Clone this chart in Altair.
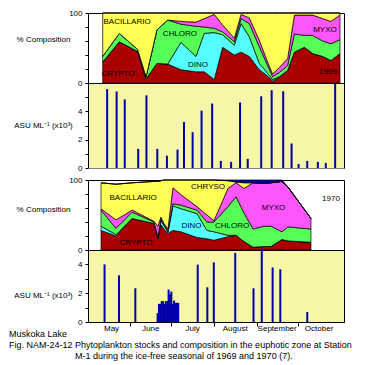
import altair as alt
import pandas as pd

FONT = "Liberation Sans"
X_DOMAIN = [125, 304]                      # day of year
MONTH_BOUNDS = [152, 182, 213, 244, 274]
months = ["May", "June", "July", "August", "September", "October"]
month_mid = [138.5, 167, 197.5, 228.5, 259, 289.5]

groups = ["CRYPTO", "DINO", "CHLORO", "MYXO", "BACILLARIO", "CYANO"]
group_colors = ["#aa0000", "#55ffff", "#55ff55", "#ff55ff", "#ffff55", "#0000aa"]

# ---- 1969 composition (% of total) ----
days69 = [135.3, 146.9, 159.7, 165.6, 173.2, 180.7, 190.0, 200.5, 206.3, 213.3, 219.1, 227.3, 232.0,
          237.8, 244.8, 250.6, 254.1, 258.8, 264.6, 269.3, 276.3, 282.1, 289.1, 294.9, 301.2]
crypto69 = [30, 59, 45, 6, 28, 27, 19, 16, 16, 5, 51, 40, 44, 38, 19, 10, 3, 8, 18, 44, 51, 42, 38, 32, 42]
dino69 = [0, 0, 0, 0, 0, 0, 39, 22, 55, 67, 18, 14, 41, 28, 9, 4, 2, 1, 0, 0, 0, 0, 0, 0, 0]
chloro69 = [8, 12, 3, 3, 48, 63, 26, 43, 9, 6, 4, 5, 7, 19, 24, 11, 4, 6, 7, 26, 17, 26, 22, 24, 20]
myxo69 = [0, 0, 0, 0, 0, 0, 4, 6, 12, 20, 10, 5, 6, 8, 9, 5, 4, 7, 10, 27, 29, 29, 32, 32, 35]
bacil69 = [62, 29, 52, 91, 24, 10, 12, 13, 8, 2, 17, 36, 2, 7, 39, 70, 87, 78, 65, 3, 3, 3, 8, 12, 3]
cyano69 = [0] * len(days69)

# ---- 1969 abundance (ASU/mL x10^3) ----
bar_days69 = [135.3, 142.2, 148.1, 157.9, 163.9, 171.8, 178.8, 186.5, 191.2, 197.5, 204.0, 211.7, 218.0,
              225.5, 232.0, 237.6, 247.4, 255.0, 263.4, 269.5, 274.6, 280.9, 288.6, 294.4, 301.2]
asu69 = [5.57, 5.40, 4.84, 1.35, 5.13, 1.35, 0.87, 1.30, 3.25, 2.53, 4.05, 4.55, 0.50,
         0.43, 4.63, 0.65, 5.06, 5.49, 5.42, 1.73, 0.29, 0.50, 0.43, 0.36, 6.0]

# ---- 1970 composition (% of total) ----
days70 = [134.1, 144.6, 155.8, 171.1, 173.9, 176.0, 178.1, 180.9, 184.4, 190.0, 201.2, 208.2, 213.1,
          222.9, 228.5, 234.1, 240.4, 248.1, 253.0, 260.6, 264.8, 280.9]
crypto70 = [28, 20, 45, 38, 16, 36, 30, 24, 28, 26, 18, 16, 14, 19, 21, 12, 4, 5, 5, 15, 13, 11]
dino70 = [6, 2, 0, 0, 1, 6, 5, 2, 35, 33, 34, 12, 12, 2, 0, 0, 0, 0, 0, 0, 0, 0]
chloro70 = [23, 9, 9, 2, 2, 2, 1, 1, 3, 5, 5, 12, 14, 41, 55, 41, 26, 29, 29, 11, 20, 19]
myxo70 = [2, 12, 3, 1, 15, 3, 2, 3, 23, 15, 5, 10, 2, 26, 20, 35, 66, 61, 62, 72, 57, 15]
bacil70 = [37, 51, 39, 57, 64, 52, 62, 70, 11, 21, 38, 50, 58, 11, 1, 8, 0, 0, 0, 0, 0, 0]
cyano70 = [0, 0, 0, 0, 0, 0, 0, 0, 0, 0, 0, 0, 0, 1, 3, 4, 4, 5, 4, 2, 0, 0]

# ---- 1970 abundance ----
bar_days70 = [133.4, 143.9, 155.8, 172, 173, 174, 175, 176, 177, 178, 179, 180, 181, 182, 183, 184,
              185, 186, 187, 201.2, 208.2, 212.9, 228.5, 241.8, 247.8, 255.7, 261.3, 280.9]
asu70 = [4.0, 3.24, 2.34, 0.62, 1.26, 1.26, 1.45, 1.45, 1.26, 1.45, 1.45, 2.25, 1.91, 2.11, 1.26, 1.49,
         1.33, 1.33, 1.33, 3.98, 2.41, 4.14, 4.8, 2.34, 5.1, 3.79, 3.66, 0.69]

# ---- in-panel labels ----
labels69 = ["BACILLARIO", "CHLORO", "DINO", "CRYPTO", "MYXO", "1969"]
labels69_day = [152.3, 189.3, 201.9, 146.0, 290.7, 292.8]
labels69_pct = [87.6, 70, 25.7, 12.9, 75.7, 15.7]
labels70 = ["BACILLARIO", "CHRYSO", "DINO", "CHLORO", "MYXO", "CRYPTO", "1970"]
labels70_day = [156.5, 208.9, 197.4, 225.7, 254.7, 158.6, 294.9]
labels70_pct = [74, 90, 34, 34, 60, 10, 73]

caption = ["Muskoka Lake",
           "Fig. NAM-24-12  Phytoplankton stocks and composition in the euphotic zone at Station",
           "M-1 during the ice-free seasonal of 1969 and 1970 (7)."]

W = 256
H_COMP = 70
H_BAR69 = 85
H_BAR70 = 72
GAP = 12
BAR_BG = "#f6f6a6"

xscale = alt.Scale(domain=X_DOMAIN, nice=False, zero=False)
pct_scale = alt.Scale(domain=[0, 100], nice=False)
x_axis = alt.Axis(values=MONTH_BOUNDS, labels=False, ticks=True, tickSize=4, title=None,
                  grid=False, domainColor="black", tickColor="black")
x_axis_noticks = alt.Axis(values=MONTH_BOUNDS, labels=False, ticks=False, title=None, grid=False,
                          domainColor="black")


def pct_axis(title_y):
    return alt.Axis(values=[0, 20, 40, 60, 80, 100],
                    labelExpr="datum.value == 0 || datum.value == 100 ? datum.label : ''",
                    tickSize=3, labelPadding=3, grid=False, title="% Composition", titleAngle=0,
                    titleAlign="center", titleBaseline="middle", titleX=-45, titleY=title_y,
                    domainColor="black", tickColor="black")


def asu_axis(top, title_y):
    return alt.Axis(values=list(range(0, top + 1)),
                    labelExpr="datum.value == 0 || datum.value == 2 || datum.value == 4 ? datum.label : ''",
                    tickSize=3, labelPadding=3, grid=False, title="ASU ML⁻¹ (x10³)", titleAngle=0,
                    titleAlign="center", titleBaseline="middle", titleX=-45, titleY=title_y,
                    domainColor="black", tickColor="black")


def comp_frame(days, series):
    rows = []
    for k, (name, vals) in enumerate(zip(groups, series)):
        for d, v in zip(days, vals):
            rows.append({"day": d, "group": name, "pct": v, "k": k})
    return pd.DataFrame(rows)


def comp_panel(days, series, lab, lab_day, lab_pct, title_y):
    df = comp_frame(days, series)
    yaxis = pct_axis(title_y)
    area = alt.Chart(df).mark_area(stroke="black", strokeWidth=0.7, interpolate="linear").encode(
        x=alt.X("day:Q", scale=xscale, axis=x_axis_noticks),
        y=alt.Y("pct:Q", stack="zero", scale=pct_scale, axis=yaxis),
        color=alt.Color("group:N", scale=alt.Scale(domain=groups, range=group_colors), legend=None),
        order=alt.Order("k:Q", sort="ascending"),
    )
    ldf = pd.DataFrame({"name": lab, "day": lab_day, "pct": lab_pct})
    text = alt.Chart(ldf).mark_text(font=FONT, fontSize=8, color="black").encode(
        x=alt.X("day:Q", scale=xscale, axis=x_axis_noticks),
        y=alt.Y("pct:Q", scale=pct_scale, axis=yaxis),
        text="name:N",
    )
    return alt.layer(area, text).properties(width=W, height=H_COMP,
                                            view=alt.ViewBackground(fill="white", stroke="black"))


def bar_layer(days, vals, top, title_y):
    df = pd.DataFrame({"day": days, "asu": vals})
    return alt.Chart(df).mark_bar(size=2, color="#0000aa").encode(
        x=alt.X("day:Q", scale=xscale, axis=x_axis),
        y=alt.Y("asu:Q", scale=alt.Scale(domain=[0, top], nice=False), axis=asu_axis(top, title_y)),
    )


p1 = comp_panel(days69, [crypto69, dino69, chloro69, myxo69, bacil69, cyano69],
                labels69, labels69_day, labels69_pct, 26)
p2 = alt.layer(bar_layer(bar_days69, asu69, 6, 42)).properties(
    width=W, height=H_BAR69, view=alt.ViewBackground(fill=BAR_BG, stroke="black"))

spacer = alt.Chart(pd.DataFrame({"a": [0]})).mark_point(opacity=0).encode(
    x=alt.X("a:Q", axis=None), y=alt.Y("a:Q", axis=None)
).properties(width=W, height=GAP, view=alt.ViewBackground(fill="white", stroke="white", strokeOpacity=0))

p3 = comp_panel(days70, [crypto70, dino70, chloro70, myxo70, bacil70, cyano70],
                labels70, labels70_day, labels70_pct, 29)

mdf = pd.DataFrame({"m": months, "day": month_mid})
month_text = alt.Chart(mdf).mark_text(font=FONT, fontSize=8, color="black", baseline="middle").encode(
    x=alt.X("day:Q", scale=xscale, axis=x_axis),
    y=alt.value(H_BAR70 + 7),
    text="m:N",
)
cap_layers = []
for line, cx, cy in zip(caption, [-79, -79, -13], [H_BAR70 + 12, H_BAR70 + 23, H_BAR70 + 34]):
    cap_layers.append(
        alt.Chart(pd.DataFrame({"t": [line]})).mark_text(
            font=FONT, fontSize=9, color="black", align="left", baseline="middle"
        ).encode(x=alt.value(cx), y=alt.value(cy), text="t:N")
    )

p4 = alt.layer(bar_layer(bar_days70, asu70, 5, 45), month_text, *cap_layers).properties(
    width=W, height=H_BAR70, view=alt.ViewBackground(fill=BAR_BG, stroke="black"))

chart = alt.vconcat(p1, p2, spacer, p3, p4, spacing=0, bounds="flush").properties(
    padding=0, background="white"
).configure_axis(
    labelFont=FONT, labelFontSize=8, titleFont=FONT, titleFontSize=8, titleFontWeight="normal",
    labelColor="black", titleColor="black"
).configure_view(stroke="black")

chart.save("out.html", embed_options={"renderer": "svg", "actions": False})
